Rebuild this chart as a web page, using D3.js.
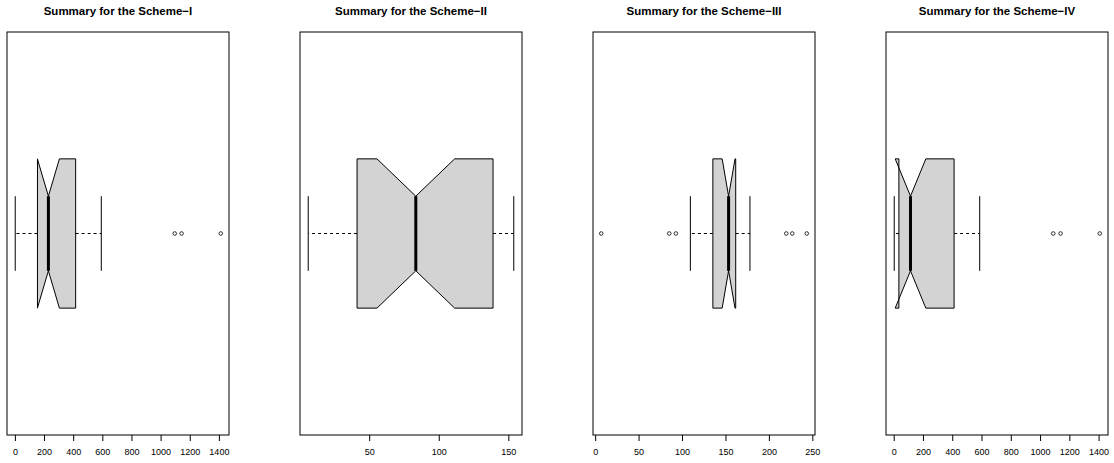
<!DOCTYPE html>
<html>
<head>
<meta charset="utf-8">
<script src="https://cdn.jsdelivr.net/npm/d3@7"></script>
<style>
  body { margin: 0; background: #fff; }
  svg { display: block; }
  .tick text { font-family: "Liberation Sans", Arial, sans-serif; font-size: 9px; fill: #000; }
  .tick line { stroke: #000; }
</style>
</head>
<body>
<div id="chart"></div>
<script>
// valeurs (une entrée par schéma)
const schemes = ["Scheme\u2212I", "Scheme\u2212II", "Scheme\u2212III", "Scheme\u2212IV"];
const lowerWhisker = [2.3, 6.2, 109.6, 3.6];
const lowerHinge = [155, 41.3, 135.5, 35.4];
const medians = [230, 83.5, 153.6, 114.9];
const upperHinge = [417, 139.0, 161.8, 412.6];
const upperWhisker = [593, 153.9, 178.2, 587.6];
const notchLow = [154.5, 55.6, 146.2, 10.3];
const notchHigh = [305.5, 111.4, 161.0, 219.5];
const outliers = [
    [1097, 1144, 1413],
    [],
    [7, 85.3, 92.9, 220, 226.9, 243.6],
    [1090, 1140, 1408]
];
const tickValues = [
    [0, 200, 400, 600, 800, 1000, 1200, 1400],
    [50, 100, 150],
    [0, 50, 100, 150, 200, 250],
    [0, 200, 400, 600, 800, 1000, 1200, 1400]
];

const width = 1114, height = 463;
const plotW = 222, plotTop = 32, plotBottom = 435, left0 = 7, step = 293;
const boxHalf = 0.2, notchW = 0.5, stapleW = 0.5;

const svg = d3.select("#chart").append("svg")
    .attr("width", width).attr("height", height);

// y commun : une seule boîte centrée sur 1, étendue de 4% comme R
const y = d3.scaleLinear().domain([0.5 - 0.04, 1.5 + 0.04]).range([plotBottom, plotTop]);

schemes.forEach((s, i) => {
    const x0 = left0 + i * step;
    const vals = [lowerWhisker[i], upperWhisker[i]].concat(outliers[i]);
    const mn = d3.min(vals), mx = d3.max(vals), r = mx - mn;
    const x = d3.scaleLinear().domain([mn - 0.04 * r, mx + 0.04 * r]).range([x0, x0 + plotW]);

    const g = svg.append("g").attr("class", "panel");

    // titre
    g.append("text")
        .attr("x", x0 + plotW / 2).attr("y", 15)
        .attr("text-anchor", "middle")
        .attr("font-family", "'Liberation Sans', Arial, sans-serif")
        .attr("font-weight", "bold")
        .attr("font-size", "11.5px")
        .text("Summary for the " + s);

    // moustaches en pointillés
    [[lowerHinge[i], lowerWhisker[i]], [upperHinge[i], upperWhisker[i]]].forEach(d => {
        g.append("line")
            .attr("x1", x(d[0])).attr("x2", x(d[1]))
            .attr("y1", y(1)).attr("y2", y(1))
            .attr("stroke", "#000").attr("stroke-width", 1)
            .attr("stroke-dasharray", "3,3");
        g.append("line")
            .attr("x1", x(d[1])).attr("x2", x(d[1]))
            .attr("y1", y(1 - boxHalf * stapleW)).attr("y2", y(1 + boxHalf * stapleW))
            .attr("stroke", "#000").attr("stroke-width", 1);
    });

    // boîte à encoches
    const pts = [
        [lowerHinge[i], 1 - boxHalf], [lowerHinge[i], 1 + boxHalf],
        [notchLow[i], 1 + boxHalf], [medians[i], 1 + boxHalf * notchW],
        [notchHigh[i], 1 + boxHalf], [upperHinge[i], 1 + boxHalf],
        [upperHinge[i], 1 - boxHalf], [notchHigh[i], 1 - boxHalf],
        [medians[i], 1 - boxHalf * notchW], [notchLow[i], 1 - boxHalf]
    ];
    g.append("path")
        .attr("d", d3.line().x(p => x(p[0])).y(p => y(p[1]))(pts) + "Z")
        .attr("fill", "#d3d3d3")
        .attr("stroke", "#000").attr("stroke-width", 1)
        .attr("stroke-linejoin", "round");

    // médiane
    g.append("line")
        .attr("x1", x(medians[i])).attr("x2", x(medians[i]))
        .attr("y1", y(1 - boxHalf * notchW)).attr("y2", y(1 + boxHalf * notchW))
        .attr("stroke", "#000").attr("stroke-width", 3);

    // valeurs extrêmes
    g.selectAll(".out").data(outliers[i]).enter().append("circle")
        .attr("class", "out")
        .attr("cx", d => x(d)).attr("cy", y(1))
        .attr("r", 1.8)
        .attr("fill", "none").attr("stroke", "#000").attr("stroke-width", 0.8);

    // cadre
    g.append("rect")
        .attr("x", x0).attr("y", plotTop)
        .attr("width", plotW).attr("height", plotBottom - plotTop)
        .attr("fill", "none").attr("stroke", "#000").attr("stroke-width", 1);

    // axe du bas
    const ax = g.append("g")
        .attr("transform", "translate(0," + plotBottom + ")")
        .call(d3.axisBottom(x).tickValues(tickValues[i]).tickFormat(d3.format("d"))
            .tickSize(6).tickSizeOuter(0).tickPadding(8));
    ax.select(".domain").remove();
});
</script>
</body>
</html>
